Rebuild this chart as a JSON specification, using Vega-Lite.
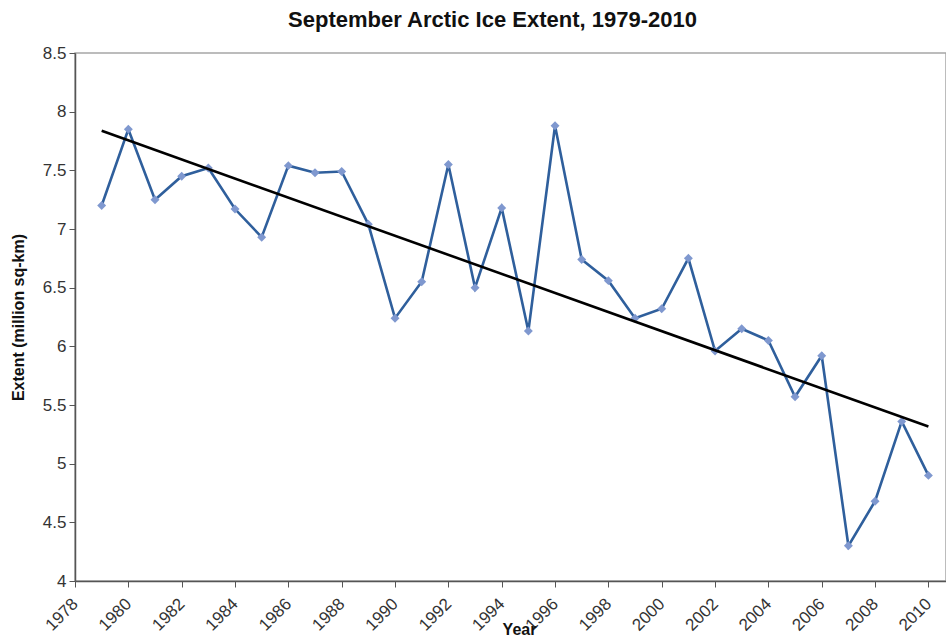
{
  "$schema": "https://vega.github.io/schema/vega-lite/v6.json",
  "autosize": "none",
  "width": 871,
  "height": 528,
  "padding": {"left": 75, "top": 53, "right": 0, "bottom": 55},
  "background": "white",
  "config": {
    "font": "Liberation Sans",
    "view": {"stroke": "#a6a6a6", "strokeWidth": 1.5},
    "axis": {
      "grid": false,
      "domainColor": "#555555",
      "domainWidth": 1.5,
      "tickColor": "#555555",
      "tickSize": 6,
      "labelFont": "Liberation Sans",
      "labelFontSize": 17,
      "labelColor": "#333333",
      "titleFont": "Liberation Sans",
      "titleFontSize": 16,
      "titleFontWeight": "bold",
      "titleColor": "#111111"
    }
  },
  "title": {
    "text": "September Arctic Ice Extent, 1979-2010",
    "font": "Liberation Sans",
    "fontSize": 22,
    "fontWeight": "bold",
    "color": "#111111",
    "anchor": "middle",
    "dx": -18,
    "offset": 12
  },
  "data": {
    "values": [
      {"Year": 1979, "Extent": 7.20},
      {"Year": 1980, "Extent": 7.85},
      {"Year": 1981, "Extent": 7.25},
      {"Year": 1982, "Extent": 7.45},
      {"Year": 1983, "Extent": 7.52},
      {"Year": 1984, "Extent": 7.17},
      {"Year": 1985, "Extent": 6.93},
      {"Year": 1986, "Extent": 7.54},
      {"Year": 1987, "Extent": 7.48},
      {"Year": 1988, "Extent": 7.49},
      {"Year": 1989, "Extent": 7.04},
      {"Year": 1990, "Extent": 6.24},
      {"Year": 1991, "Extent": 6.55},
      {"Year": 1992, "Extent": 7.55},
      {"Year": 1993, "Extent": 6.50},
      {"Year": 1994, "Extent": 7.18},
      {"Year": 1995, "Extent": 6.13},
      {"Year": 1996, "Extent": 7.88},
      {"Year": 1997, "Extent": 6.74},
      {"Year": 1998, "Extent": 6.56},
      {"Year": 1999, "Extent": 6.24},
      {"Year": 2000, "Extent": 6.32},
      {"Year": 2001, "Extent": 6.75},
      {"Year": 2002, "Extent": 5.96},
      {"Year": 2003, "Extent": 6.15},
      {"Year": 2004, "Extent": 6.05},
      {"Year": 2005, "Extent": 5.57},
      {"Year": 2006, "Extent": 5.92},
      {"Year": 2007, "Extent": 4.30},
      {"Year": 2008, "Extent": 4.68},
      {"Year": 2009, "Extent": 5.36},
      {"Year": 2010, "Extent": 4.90}
    ]
  },
  "encoding": {
    "x": {
      "field": "Year",
      "type": "quantitative",
      "scale": {"domain": [1978, 2010.66], "nice": false, "zero": false},
      "axis": {
        "values": [1978, 1980, 1982, 1984, 1986, 1988, 1990, 1992, 1994, 1996, 1998, 2000, 2002, 2004, 2006, 2008, 2010],
        "format": "d",
        "labelAngle": -45,
        "labelAlign": "right",
        "labelBaseline": "middle",
        "labelPadding": 14,
        "labelOverlap": false,
        "labelFlush": false,
        "title": "Year",
        "titleX": 444,
        "titleY": 53,
        "titleBaseline": "alphabetic",
        "titleAnchor": null
      }
    },
    "y": {
      "field": "Extent",
      "type": "quantitative",
      "scale": {"domain": [4, 8.5], "nice": false, "zero": false},
      "axis": {
        "values": [4, 4.5, 5, 5.5, 6, 6.5, 7, 7.5, 8, 8.5],
        "format": "~g",
        "labelPadding": 3,
        "tickSize": 6,
        "title": "Extent (million sq-km)",
        "titleX": -57,
        "titleY": 264,
        "titleBaseline": "middle",
        "titleAnchor": null
      }
    }
  },
  "layer": [
    {
      "mark": {"type": "line", "color": "#2f5f9c", "strokeWidth": 2.6}
    },
    {
      "mark": {"type": "point", "shape": "diamond", "filled": true, "size": 80, "color": "#7f98cf", "opacity": 1}
    },
    {
      "transform": [
        {"regression": "Extent", "on": "Year", "extent": [1979, 2010]}
      ],
      "mark": {"type": "line", "color": "#000000", "strokeWidth": 2.6}
    }
  ]
}
